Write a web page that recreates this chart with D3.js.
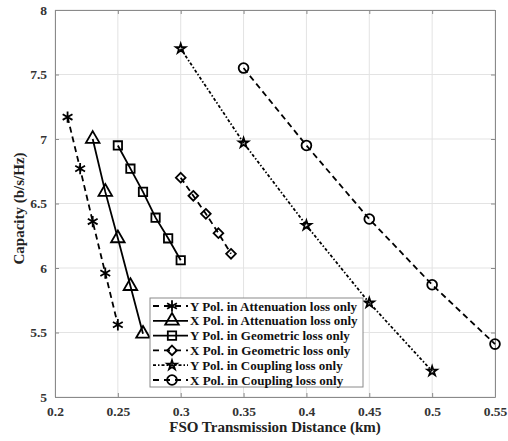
<!DOCTYPE html>
<html>
<head>
<meta charset="utf-8">
<script src="https://cdn.jsdelivr.net/npm/d3@7"></script>
<style>
  body { margin: 0; background: #fff; }
  svg { display: block; }
  text { font-family: "Liberation Serif", "Times New Roman", serif; font-weight: bold; }
</style>
</head>
<body>
<svg id="chart"></svg>
<script>
// data
const xTicks = [0.2, 0.25, 0.3, 0.35, 0.4, 0.45, 0.5, 0.55];
const yTicks = [5, 5.5, 6, 6.5, 7, 7.5, 8];

const yAttDist = [0.21, 0.22, 0.23, 0.24, 0.25];
const yAttCap = [7.17, 6.77, 6.36, 5.96, 5.56];
const xAttDist = [0.23, 0.24, 0.25, 0.26, 0.27];
const xAttCap = [7.0, 6.59, 6.23, 5.86, 5.49];
const yGeoDist = [0.25, 0.26, 0.27, 0.28, 0.29, 0.30];
const yGeoCap = [6.95, 6.77, 6.59, 6.39, 6.23, 6.06];
const xGeoDist = [0.30, 0.31, 0.32, 0.33, 0.34];
const xGeoCap = [6.70, 6.56, 6.42, 6.27, 6.11];
const yCplDist = [0.30, 0.35, 0.40, 0.45, 0.50];
const yCplCap = [7.70, 6.97, 6.33, 5.73, 5.20];
const xCplDist = [0.35, 0.40, 0.45, 0.50, 0.55];
const xCplCap = [7.55, 6.95, 6.38, 5.87, 5.41];

const labels = [
  "Y Pol. in Attenuation loss only",
  "X Pol. in Attenuation loss only",
  "Y Pol. in Geometric loss only",
  "X Pol. in Geometric loss only",
  "Y Pol. in Coupling loss only",
  "X Pol. in Coupling loss only"
];

const W = 508, H = 441;
const margin = { top: 10, right: 13, bottom: 44, left: 55 };
const iw = W - margin.left - margin.right;
const ih = H - margin.top - margin.bottom;

const series = [
  { xs: yAttDist, ys: yAttCap, sym: d3.symbolAsterisk, size: 90, dash: "6,4" },
  { xs: xAttDist, ys: xAttCap, sym: d3.symbolTriangle, size: 80, dash: null },
  { xs: yGeoDist, ys: yGeoCap, sym: d3.symbolSquare, size: 70, dash: null },
  { xs: xGeoDist, ys: xGeoCap, sym: d3.symbolDiamond2, size: 60, dash: "6,4" },
  { xs: yCplDist, ys: yCplCap, sym: d3.symbolStar, size: 28, dash: "3,2,1.5,2" },
  { xs: xCplDist, ys: xCplCap, sym: d3.symbolCircle, size: 75, dash: "6,4" }
];

const svg = d3.select("#chart").attr("width", W).attr("height", H);
const g = svg.append("g").attr("transform", `translate(${margin.left},${margin.top})`);

const x = d3.scaleLinear().domain([0.2, 0.55]).range([0, iw]);
const y = d3.scaleLinear().domain([5, 8]).range([ih, 0]);

// grid
g.append("g").selectAll("line").data(xTicks).enter().append("line")
  .attr("x1", d => x(d)).attr("x2", d => x(d)).attr("y1", 0).attr("y2", ih)
  .attr("stroke", "#e3e3e3").attr("stroke-width", 1);
g.append("g").selectAll("line").data(yTicks).enter().append("line")
  .attr("y1", d => y(d)).attr("y2", d => y(d)).attr("x1", 0).attr("x2", iw)
  .attr("stroke", "#e3e3e3").attr("stroke-width", 1);

// axes, ticks pointing inward, box on
const fmt = d => String(d);
const styleAxis = sel => {
  sel.select(".domain").attr("stroke", "#8a8a8a");
  sel.selectAll(".tick line").attr("stroke", "#8a8a8a");
  sel.selectAll(".tick text").attr("fill", "#333").style("font-size", "13.5px")
    .style("font-family", "'Liberation Serif', serif").style("font-weight", "bold");
};
g.append("g").attr("transform", `translate(0,${ih})`)
  .call(d3.axisBottom(x).tickValues(xTicks).tickFormat(fmt).tickSizeInner(-4).tickSizeOuter(0).tickPadding(9))
  .call(styleAxis);
g.append("g")
  .call(d3.axisLeft(y).tickValues(yTicks).tickFormat(fmt).tickSizeInner(-4).tickSizeOuter(0).tickPadding(8))
  .call(styleAxis);
g.append("g")
  .call(d3.axisTop(x).tickValues(xTicks).tickFormat("").tickSizeInner(-4).tickSizeOuter(0))
  .call(styleAxis);
g.append("g").attr("transform", `translate(${iw},0)`)
  .call(d3.axisRight(y).tickValues(yTicks).tickFormat("").tickSizeInner(-4).tickSizeOuter(0))
  .call(styleAxis);

// lines and markers
const line = d3.line().x(d => x(d[0])).y(d => y(d[1]));
series.forEach(s => {
  const pts = s.xs.map((v, i) => [v, s.ys[i]]);
  g.append("path").datum(pts)
    .attr("d", line).attr("fill", "none").attr("stroke", "#000")
    .attr("stroke-width", 1.8)
    .attr("stroke-dasharray", s.dash);
  g.selectAll(null).data(pts).enter().append("path")
    .attr("transform", d => `translate(${x(d[0])},${y(d[1])})`)
    .attr("d", d3.symbol().type(s.sym).size(s.size))
    .attr("fill", "none").attr("stroke", "#000").attr("stroke-width", 1.8);
});

// legend
const lx = 150 - margin.left, ly = 298 - margin.top, lw = 213, lh = 89;
const leg = g.append("g").attr("transform", `translate(${lx},${ly})`);
leg.append("rect").attr("width", lw).attr("height", lh)
  .attr("fill", "#fff").attr("stroke", "#8a8a8a").attr("stroke-width", 1);
series.forEach((s, i) => {
  const ry = 8 + i * 14.8;
  leg.append("line").attr("x1", 3).attr("x2", 38).attr("y1", ry).attr("y2", ry)
    .attr("stroke", "#000").attr("stroke-width", 1.8)
    .attr("stroke-dasharray", s.dash ? (s.dash === "6,4" ? "6,5" : s.dash) : null);
  leg.append("path").attr("transform", `translate(22,${ry})`)
    .attr("d", d3.symbol().type(s.sym).size(s.size))
    .attr("fill", "none").attr("stroke", "#000").attr("stroke-width", 1.8);
  leg.append("text").attr("x", 40).attr("y", ry).attr("dy", "0.35em")
    .attr("fill", "#111").style("font-size", "13px").text(labels[i]);
});

// axis titles
svg.append("text").attr("x", margin.left + iw / 2).attr("y", 432)
  .attr("text-anchor", "middle").attr("fill", "#222").style("font-size", "15px")
  .text("FSO Transmission Distance (km)");
svg.append("text").attr("transform", `translate(24,${margin.top + ih / 2 + 5}) rotate(-90)`)
  .attr("text-anchor", "middle").attr("fill", "#222").style("font-size", "15px")
  .text("Capacity (b/s/Hz)");
</script>
</body>
</html>
